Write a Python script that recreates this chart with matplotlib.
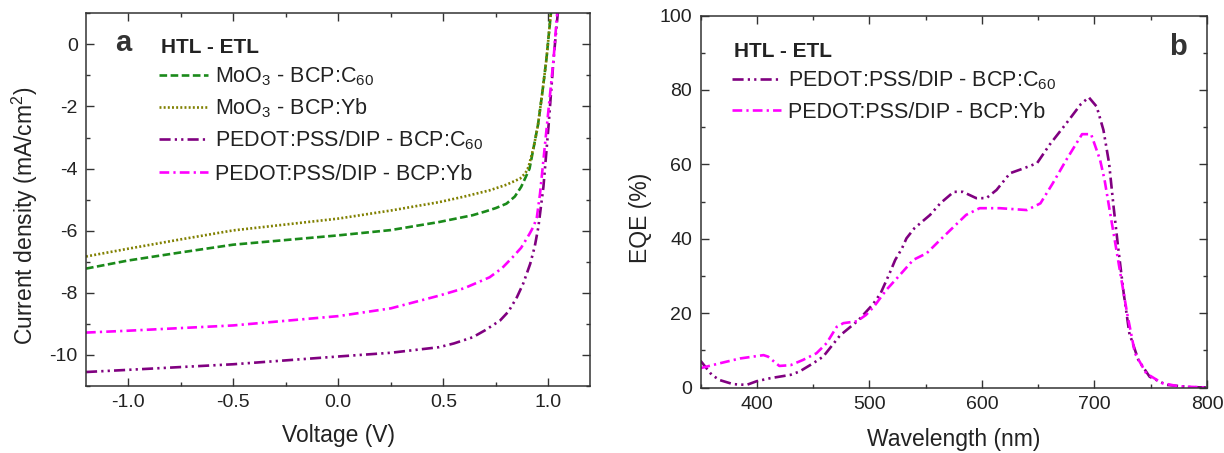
import numpy as np
import matplotlib
matplotlib.use("Agg")
import matplotlib.pyplot as plt
from matplotlib.lines import Line2D
from matplotlib.ticker import MultipleLocator

plt.rcParams['font.family'] = ['Liberation Sans', 'DejaVu Sans']
plt.rcParams['mathtext.fontset'] = 'custom'
plt.rcParams['mathtext.rm'] = 'Liberation Sans'
plt.rcParams['mathtext.it'] = 'Liberation Sans:italic'
plt.rcParams['mathtext.bf'] = 'Liberation Sans:bold'
plt.rcParams['lines.scale_dashes'] = False
plt.rcParams['axes.unicode_minus'] = False

# J-V curves (V in volts, J in mA/cm^2)
v_moo3_c60 = [-1.2, -1.0, -0.75, -0.5, -0.25, 0.0, 0.25, 0.48, 0.64, 0.70, 0.75, 0.80, 0.84, 0.87, 0.89,
              0.91, 0.93, 0.95, 0.97, 0.99, 1.01, 1.03]
j_moo3_c60 = [-7.22, -6.96, -6.70, -6.45, -6.30, -6.15, -5.98, -5.72, -5.50, -5.38, -5.27, -5.13, -4.90, -4.59, -4.30,
              -4.00, -3.30, -2.60, -1.60, -0.50, 0.90, 2.00]

v_moo3_yb = [-1.2, -1.0, -0.75, -0.5, -0.25, 0.0, 0.25, 0.48, 0.60, 0.72, 0.80, 0.865, 0.89, 0.905, 0.93,
             0.95, 0.97, 0.99, 1.01, 1.03]
j_moo3_yb = [-6.83, -6.58, -6.28, -5.99, -5.80, -5.61, -5.35, -5.08, -4.90, -4.70, -4.52, -4.32, -4.15, -3.95, -3.30,
             -2.60, -1.60, -0.50, 0.90, 2.00]

v_pedot_c60 = [-1.2, -1.0, -0.5, 0.0, 0.25, 0.48, 0.55, 0.64, 0.70, 0.77, 0.81, 0.85, 0.88, 0.913, 0.935,
               0.952, 0.976, 1.0, 1.024, 1.043, 1.06]
j_pedot_c60 = [-10.55, -10.48, -10.30, -10.05, -9.93, -9.75, -9.63, -9.43, -9.20, -8.89, -8.60, -8.14, -7.70, -7.07, -6.50,
               -5.88, -4.59, -2.66, -0.50, 0.90, 2.00]

v_pedot_yb = [-1.2, -1.0, -0.5, 0.0, 0.25, 0.48, 0.60, 0.72, 0.78, 0.83, 0.87, 0.91, 0.93, 0.945, 0.96,
              0.976, 1.0, 1.024, 1.04, 1.06]
j_pedot_yb = [-9.28, -9.22, -9.05, -8.75, -8.50, -8.09, -7.85, -7.50, -7.20, -6.85, -6.55, -6.10, -5.85, -5.56, -4.80,
              -3.73, -2.12, -0.50, 0.90, 2.00]

# EQE spectra (wavelength in nm, EQE in %)
wl_c60 = [350, 360, 367, 379, 391, 400, 412, 430, 438, 450, 459, 474, 490, 503, 510, 518, 523, 529,
          533, 540, 554, 563, 575, 583, 595, 604, 613, 625, 637, 649, 660, 675, 688, 695, 702, 708, 713,
          717, 721, 726, 731, 739, 749, 764, 785, 800]
eqe_c60 = [7.2, 3.4, 2.0, 0.9, 0.7, 1.7, 2.5, 3.4, 4.3, 6.5, 8.3, 14.0, 18.0, 22.3, 25.3, 30.7, 34.3, 37.4,
           40.1, 42.8, 46.4, 49.5, 52.6, 52.6, 50.9, 50.9, 53.1, 57.6, 58.9, 60.3, 65.2, 71.0, 76.2, 78.0, 75.5, 69.2, 60.3,
           48.6, 37.8, 25.3, 14.6, 7.4, 2.9, 0.7, 0.1, 0.0]

wl_yb = [350, 367, 385, 406, 410, 420, 430, 441, 453, 462, 471, 477, 489, 497, 504, 515, 527, 539,
         551, 563, 575, 586, 598, 616, 640, 652, 663, 675, 689, 697, 705, 709, 714, 718, 723, 729,
         736, 746, 760, 775, 800]
eqe_yb = [5.2, 6.5, 7.8, 8.7, 8.3, 5.8, 6.0, 7.4, 9.2, 11.9, 16.3, 17.3, 17.8, 19.5, 21.7, 26.2, 30.2, 34.3,
          36.1, 39.7, 43.2, 46.4, 48.2, 48.2, 47.7, 49.5, 54.9, 61.2, 68.1, 68.1, 61.2, 55.8, 46.8, 39.7, 30.7, 20.0,
          9.2, 3.8, 1.2, 0.3, 0.0]

GREEN = "#1a8a1a"
OLIVE = "#808000"
PURPLE = "#800080"
MAGENTA = "#ff00ff"
LW = 1.9
DASH = (5.5, 2.5)
DOT = (1.4, 1.6)
DASH_DOT_DOT = (8, 3, 1.6, 3, 1.6, 3)
DASH_DOT = (7, 3, 1.6, 3)

AX_COLOR = "#333333"
TEXT_COLOR = "#222222"
FIG_W, FIG_H = 1224, 453


def style_axes(ax):
    for sp in ax.spines.values():
        sp.set_linewidth(1.1)
        sp.set_color(AX_COLOR)
    ax.tick_params(which='both', direction='in', top=True, right=True, colors=AX_COLOR,
                   labelcolor=TEXT_COLOR, labelsize=14, width=1.0)
    ax.tick_params(which='major', length=5.5, pad=6)
    ax.tick_params(which='minor', length=3)


def px_to_axes(ax, x_px, y_px):
    # figure pixel position (from top-left) -> axes fraction
    bb = ax.get_position()
    fx = x_px / FIG_W
    fy = 1 - y_px / FIG_H
    return (fx - bb.x0) / bb.width, (fy - bb.y0) / bb.height


def key(ax, x_px, title_y, rows, entries):
    # hand-placed legend: bold title, then a line sample + label per row
    tx, ty = px_to_axes(ax, x_px + 2, title_y)
    ax.text(tx, ty, "HTL - ETL", transform=ax.transAxes, fontsize=15, fontweight='bold',
            color=TEXT_COLOR, ha='left', va='center')
    for y_px, (label, color, dashes) in zip(rows, entries):
        x0, yc = px_to_axes(ax, x_px, y_px)
        x1, _ = px_to_axes(ax, x_px + 49, y_px)
        xt, yb = px_to_axes(ax, x_px + 56, y_px + 7.5)
        ax.add_line(Line2D([x0, x1], [yc, yc], transform=ax.transAxes, color=color,
                           lw=LW, dashes=dashes, clip_on=False))
        ax.text(xt, yb, label, transform=ax.transAxes, fontsize=15.5, color=TEXT_COLOR,
                ha='left', va='baseline')


fig = plt.figure(figsize=(FIG_W / 100, FIG_H / 100), dpi=100)
ax1 = fig.add_axes([86 / FIG_W, 1 - 386 / FIG_H, 504.5 / FIG_W, 372.7 / FIG_H])
ax2 = fig.add_axes([700.5 / FIG_W, 1 - 387.5 / FIG_H, 506.5 / FIG_W, 372 / FIG_H])

# Panel a: J-V
ax1.plot(v_moo3_c60, j_moo3_c60, color=GREEN, lw=LW, dashes=DASH)
ax1.plot(v_moo3_yb, j_moo3_yb, color=OLIVE, lw=LW, dashes=DOT)
ax1.plot(v_pedot_c60, j_pedot_c60, color=PURPLE, lw=LW, dashes=DASH_DOT_DOT)
ax1.plot(v_pedot_yb, j_pedot_yb, color=MAGENTA, lw=LW, dashes=DASH_DOT)
ax1.set_xlim(-1.2, 1.2)
ax1.set_ylim(-11, 1)
ax1.xaxis.set_major_locator(MultipleLocator(0.5))
ax1.xaxis.set_minor_locator(MultipleLocator(0.25))
ax1.yaxis.set_major_locator(MultipleLocator(2))
ax1.yaxis.set_minor_locator(MultipleLocator(1))
ax1.xaxis.set_major_formatter(plt.FuncFormatter(lambda x, p: f"{x:.1f}"))
style_axes(ax1)
ax1.set_xlabel("Voltage (V)", fontsize=16.5, color=TEXT_COLOR, labelpad=9)
ax1.set_ylabel(r"Current density (mA/cm$^2$)", fontsize=16.5, color=TEXT_COLOR)
ax1.yaxis.set_label_coords(-0.091, 0.456)
ax1.text(0.073, 0.92, "a", transform=ax1.transAxes, fontsize=21, fontweight='bold',
         color=AX_COLOR, ha='center', va='center')
key(ax1, 159, 47.7, [75, 107, 139, 172], [
    (r"MoO$_3$ - BCP:C$_{60}$", GREEN, DASH),
    (r"MoO$_3$ - BCP:Yb", OLIVE, DOT),
    (r"PEDOT:PSS/DIP - BCP:C$_{60}$", PURPLE, DASH_DOT_DOT),
    ("PEDOT:PSS/DIP - BCP:Yb", MAGENTA, DASH_DOT),
])

# Panel b: EQE
ax2.plot(wl_c60, eqe_c60, color=PURPLE, lw=LW, dashes=DASH_DOT_DOT)
ax2.plot(wl_yb, eqe_yb, color=MAGENTA, lw=LW, dashes=DASH_DOT)
ax2.set_xlim(350, 800)
ax2.set_ylim(0, 100)
ax2.xaxis.set_major_locator(MultipleLocator(100))
ax2.xaxis.set_minor_locator(MultipleLocator(50))
ax2.yaxis.set_major_locator(MultipleLocator(20))
ax2.yaxis.set_minor_locator(MultipleLocator(10))
style_axes(ax2)
ax2.set_xlabel("Wavelength (nm)", fontsize=16.5, color=TEXT_COLOR, labelpad=11)
ax2.set_ylabel("EQE (%)", fontsize=16.5, color=TEXT_COLOR)
ax2.yaxis.set_label_coords(-0.096, 0.456)
ax2.text(0.943, 0.915, "b", transform=ax2.transAxes, fontsize=21, fontweight='bold',
         color=AX_COLOR, ha='center', va='center')
key(ax2, 732, 51.7, [79, 110], [
    (r"PEDOT:PSS/DIP - BCP:C$_{60}$", PURPLE, DASH_DOT_DOT),
    ("PEDOT:PSS/DIP - BCP:Yb", MAGENTA, DASH_DOT),
])

fig.savefig("out.png", dpi=100)
